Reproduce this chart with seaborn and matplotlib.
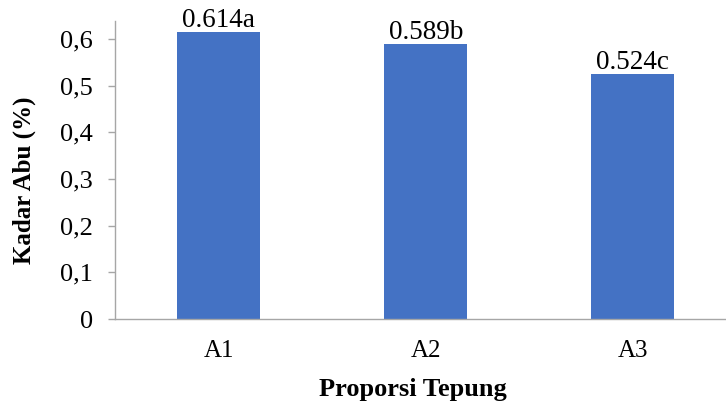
import matplotlib
matplotlib.use("Agg")
import matplotlib.pyplot as plt
import seaborn as sns
import pandas as pd

categories = ["A1", "A2", "A3"]
kadar_abu = [0.614, 0.589, 0.524]
notasi = ["a", "b", "c"]
y_ticks = [0, 0.1, 0.2, 0.3, 0.4, 0.5, 0.6]
y_tick_labels = ["0", "0,1", "0,2", "0,3", "0,4", "0,5", "0,6"]

sns.set_style("white")
plt.rcParams["font.family"] = ["Liberation Serif", "DejaVu Serif"]
plt.rcParams["text.color"] = "black"
plt.rcParams["axes.labelcolor"] = "black"

df = pd.DataFrame({"Proporsi": categories, "Kadar": kadar_abu})

fig = plt.figure(figsize=(7.26, 4.03), dpi=100)
ax = fig.add_axes([0.1584, 0.2084, 0.856, 0.7395])

sns.barplot(data=df, x="Proporsi", y="Kadar", color="#4472C4", width=0.4,
            saturation=1, linewidth=0, ax=ax)

# value labels with significance letters above each bar
for i, (v, n) in enumerate(zip(kadar_abu, notasi)):
    ax.annotate(f"{v:.3f}{n}", xy=(i, v), xytext=(0, 3.8), textcoords="offset points",
                ha="center", va="baseline", fontsize=19.5, color="black")

ax.set_xlim(-0.5, 2.5)
ax.set_ylim(0, 0.6386)
ax.set_yticks(y_ticks)
ax.set_yticklabels(y_tick_labels, fontsize=19)
ax.tick_params(axis="y", length=5, width=1, color="#A6A6A6", labelcolor="black",
               pad=11, left=True)
ax.tick_params(axis="x", length=0, pad=15, labelsize=18, labelcolor="black")

for side in ["top", "right"]:
    ax.spines[side].set_visible(False)
for side in ["left", "bottom"]:
    ax.spines[side].set_color("#A6A6A6")
    ax.spines[side].set_linewidth(1)

ax.set_xlabel("Proporsi Tepung", fontsize=19, fontweight="bold", color="black")
ax.set_ylabel("Kadar Abu (%)", fontsize=18, fontweight="bold", color="black")
ax.xaxis.set_label_coords(0.479, -0.199)
ax.yaxis.set_label_coords(-0.127, 0.466)

fig.savefig("out.png", dpi=100)
